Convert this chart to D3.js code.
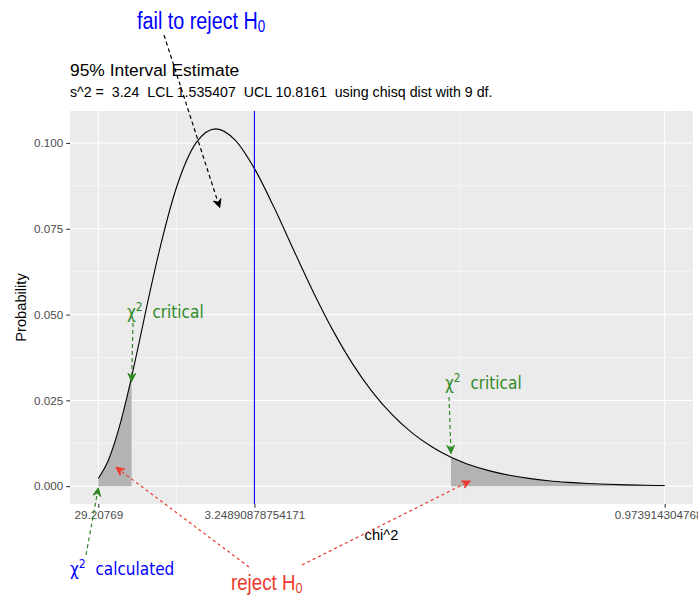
<!DOCTYPE html>
<html>
<head>
<meta charset="utf-8" />
<title>chisq interval estimate</title>
<script src="https://d3js.org/d3.v7.min.js"></script>
<style>
  body { margin: 0; padding: 0; background: #ffffff; }
  svg { display: block; font-family: "Liberation Sans", Arial, sans-serif; }
  text { white-space: pre; }
</style>
</head>
<body>
<div id="chart"></div>
<script>

// chi^2 values (x) and density (9 df)
const chiX = [0.998, 1.5, 2, 2.5, 2.7, 3, 3.5, 4, 5, 6, 7, 8, 9, 10, 11, 12, 13, 14, 15, 16, 17, 18, 19, 19.02, 20, 21, 22, 23, 24, 25, 26, 27, 28, 29, 29.94]
const density = [0.00229, 0.00742, 0.01581, 0.02689, 0.03186, 0.03965, 0.05307, 0.06582, 0.08718, 0.10009, 0.10412, 0.10078, 0.09231, 0.08096, 0.06855, 0.05638, 0.04525, 0.03557, 0.02747, 0.02088, 0.01566, 0.01160, 0.00850, 0.00845, 0.00617, 0.00444, 0.00317, 0.00225, 0.00158, 0.00111, 0.00077, 0.00053, 0.00037, 0.00025, 0.00018]

const lowerCrit = 2.7
const upperCrit = 19.02
const chiCalc = 8.975

const xTickVals = [0.998, 8.975, 29.94]
const xTickLabels = ['29.20769', '3.24890878754171', '0.97391430476843']
const xMinorVals = [4.9865, 19.4575]
const yTicks = [0, 0.025, 0.05, 0.075, 0.1]
const yMinor = [0.0125, 0.0375, 0.0625, 0.0875]

const titleText = '95% Interval Estimate'
const subtitleText = 's^2 =  3.24  LCL 1.535407  UCL 10.8161  using chisq dist with 9 df.'

const W = 698, H = 596
const panel = {left: 70, right: 693, top: 111, bottom: 504}

const svg = d3.select('#chart').append('svg')
  .attr('width', W).attr('height', H)

const points = chiX.map((c, i) => ({x: c, y: density[i]}))

// ggplot style 5% expansion
const xr = d3.extent(chiX), xe = (xr[1] - xr[0]) * 0.05
const yMax = d3.max(density), ye = yMax * 0.05
const x = d3.scaleLinear().domain([xr[0] - xe, xr[1] + xe]).range([panel.left, panel.right])
const y = d3.scaleLinear().domain([0 - ye, yMax + ye]).range([panel.bottom, panel.top])

// panel background
svg.append('rect')
  .attr('x', panel.left).attr('y', panel.top)
  .attr('width', panel.right - panel.left).attr('height', panel.bottom - panel.top)
  .attr('fill', '#ebebeb')

const grid = svg.append('g')
grid.selectAll('.ymin').data(yMinor).enter().append('line')
  .attr('x1', panel.left).attr('x2', panel.right)
  .attr('y1', d => y(d)).attr('y2', d => y(d))
  .attr('stroke', '#fff').attr('stroke-width', 0.55)
grid.selectAll('.xmin').data(xMinorVals).enter().append('line')
  .attr('y1', panel.top).attr('y2', panel.bottom)
  .attr('x1', d => x(d)).attr('x2', d => x(d))
  .attr('stroke', '#fff').attr('stroke-width', 0.55)
grid.selectAll('.ymaj').data(yTicks).enter().append('line')
  .attr('x1', panel.left).attr('x2', panel.right)
  .attr('y1', d => y(d)).attr('y2', d => y(d))
  .attr('stroke', '#fff').attr('stroke-width', 1.1)
grid.selectAll('.xmaj').data(xTickVals).enter().append('line')
  .attr('y1', panel.top).attr('y2', panel.bottom)
  .attr('x1', d => x(d)).attr('x2', d => x(d))
  .attr('stroke', '#fff').attr('stroke-width', 1.1)

// shaded rejection regions
const area = d3.area()
  .x(d => x(d.x)).y0(y(0)).y1(d => y(d.y))
  .curve(d3.curveMonotoneX)
svg.append('path')
  .datum(points.filter(d => d.x <= lowerCrit))
  .attr('fill', '#b3b3b3').attr('d', area)
svg.append('path')
  .datum(points.filter(d => d.x >= upperCrit))
  .attr('fill', '#b3b3b3').attr('d', area)

// density curve
svg.append('path')
  .datum(points)
  .attr('fill', 'none').attr('stroke', '#000').attr('stroke-width', 1.1)
  .attr('d', d3.line().x(d => x(d.x)).y(d => y(d.y)).curve(d3.curveMonotoneX))

// vertical line
svg.append('line')
  .attr('x1', x(chiCalc)).attr('x2', x(chiCalc))
  .attr('y1', panel.top).attr('y2', panel.bottom)
  .attr('stroke', '#0000ff').attr('stroke-width', 1.1)

// axes
const xAxis = d3.axisBottom(x).tickValues(xTickVals)
  .tickFormat((d, i) => xTickLabels[i]).tickSize(3.7).tickPadding(3)
const gx = svg.append('g').attr('transform', `translate(0,${panel.bottom})`).call(xAxis)
const yAxis = d3.axisLeft(y).tickValues(yTicks)
  .tickFormat(d3.format('.3f')).tickSize(3.7).tickPadding(3)
const gy = svg.append('g').attr('transform', `translate(${panel.left},0)`).call(yAxis)
;[gx, gy].forEach(g => {
  g.select('.domain').remove()
  g.selectAll('.tick line').attr('stroke', '#333333').attr('stroke-width', 1.1)
  g.selectAll('.tick text').attr('fill', '#4d4d4d')
    .style('font-family', '"Liberation Sans", Arial, sans-serif').style('font-size', '11.7px')
})

svg.append('text')
  .attr('x', (panel.left + panel.right) / 2).attr('y', 540)
  .attr('text-anchor', 'middle').attr('font-size', 14.7).text('chi^2')
svg.append('text')
  .attr('transform', `translate(26,${(panel.top + panel.bottom) / 2}) rotate(-90)`)
  .attr('text-anchor', 'middle').attr('font-size', 14.7).text('Probability')

svg.append('text').attr('x', 70).attr('y', 76).attr('font-size', 17.4).text(titleText)
svg.append('text').attr('x', 70).attr('y', 97).attr('font-size', 14.2).text(subtitleText)

// annotations
const arrow = (x1, y1, x2, y2, color, dash) => {
  svg.append('line')
    .attr('x1', x1).attr('y1', y1).attr('x2', x2).attr('y2', y2)
    .attr('stroke', color).attr('stroke-width', 1.2).attr('stroke-dasharray', dash)
  const a = Math.atan2(y2 - y1, x2 - x1), len = 9, spread = 0.45
  const p1 = [x2 - len * Math.cos(a - spread), y2 - len * Math.sin(a - spread)]
  const p2 = [x2 - len * Math.cos(a + spread), y2 - len * Math.sin(a + spread)]
  const pb = [x2 - len * 0.6 * Math.cos(a), y2 - len * 0.6 * Math.sin(a)]
  svg.append('path')
    .attr('d', `M${p1}L${x2},${y2}L${p2}L${pb}Z`)
    .attr('fill', color).attr('stroke', color).attr('stroke-width', 1)
}

const black = '#000000', green = '#2f8a26', red = '#ec3a2c', blue = '#0000ff'

arrow(164, 35, x(7.2), y(0.0812), black, '4,3')
arrow(133, 323, x(lowerCrit), y(0.0305), green, '4,3')
arrow(449, 397, x(upperCrit), y(0.0095), green, '4,3')
arrow(86, 555, x(0.998), y(-0.0005), green, '4,3')
arrow(249, 567, x(1.9), y(0.0055), red, '3,3')
arrow(302, 565, x(20), y(0.0015), red, '3,3')

const narrow = (tx, ty, sx, size, color, main, sub) => {
  const t = svg.append('text')
    .attr('transform', `translate(${tx},${ty}) scale(${sx},1)`)
    .attr('font-size', size).attr('fill', color)
  t.append('tspan').text(main)
  t.append('tspan').attr('font-size', size * 0.68).attr('dy', 3).text(sub)
}
narrow(137, 28.5, 0.86, 23, blue, 'fail to reject H', '0')
narrow(231, 590, 0.85, 22, red, 'reject H', '0')

const chiLabel = (tx, ty, color, word) => {
  const t = svg.append('text')
    .attr('x', tx).attr('y', ty).attr('fill', color)
    .style('font-family', '"DejaVu Sans Condensed", "DejaVu Sans", sans-serif')
    .attr('font-size', 17)
  t.append('tspan').text('χ')
  t.append('tspan').attr('font-size', 12).attr('dy', -7).text('2')
  t.append('tspan').attr('dy', 7).text('  ' + word)
}
chiLabel(127, 318, green, 'critical')
chiLabel(445, 389, green, 'critical')
chiLabel(70, 575, blue, 'calculated')

</script>
</body>
</html>
